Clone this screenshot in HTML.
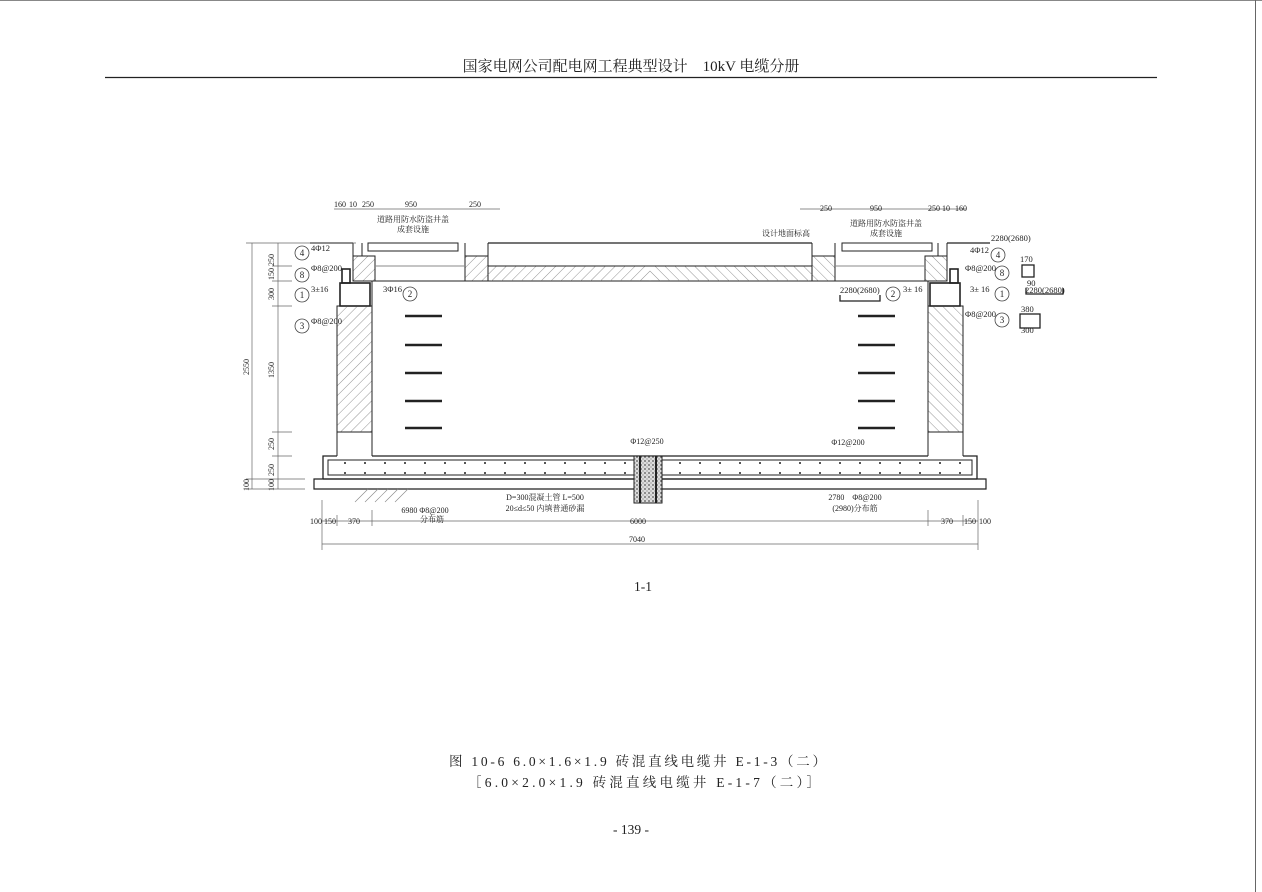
<!DOCTYPE html>
<html><head><meta charset="utf-8"><style>
html,body{margin:0;padding:0;background:#fff;}
svg{display:block;}
text{font-family:"Liberation Serif","Noto Serif CJK SC","Noto Sans CJK SC",serif;fill:#222;}
</style></head><body>
<svg width="1262" height="892" viewBox="0 0 1262 892" xmlns="http://www.w3.org/2000/svg">
<defs>
<pattern id="h" width="7" height="7" patternUnits="userSpaceOnUse" patternTransform="rotate(45)">
<line x1="0" y1="0" x2="0" y2="7" stroke="#666" stroke-width="0.7"/></pattern>
<pattern id="g" width="4" height="4" patternUnits="userSpaceOnUse">
<rect width="4" height="4" fill="#ddd"/><circle cx="1" cy="1" r="0.9" fill="#555"/><circle cx="3" cy="3" r="0.6" fill="#777"/></pattern>
</defs>
<rect width="1262" height="892" fill="#fff"/>
<line x1="0" y1="0.5" x2="1262" y2="0.5" stroke="#888"/>
<line x1="1255.5" y1="0" x2="1255.5" y2="892" stroke="#666"/>
<text x="631" y="71" font-size="15" text-anchor="middle">国家电网公司配电网工程典型设计　10kV 电缆分册</text>
<line x1="105" y1="77.5" x2="1157" y2="77.5" stroke="#222" stroke-width="1.2"/>

<g id="half" stroke="#222" fill="none" stroke-width="1">
  <line x1="310" y1="243" x2="353" y2="243" stroke-width="1.3"/>
  <rect x="368" y="243" width="90" height="8"/>
  <line x1="362" y1="243" x2="362" y2="256"/>
  <line x1="353" y1="243" x2="353" y2="256"/>
  <line x1="465" y1="243" x2="465" y2="256"/>
  <line x1="488" y1="243" x2="488" y2="256"/>
  <line x1="488" y1="243" x2="650" y2="243" stroke-width="1.3"/>
  <rect x="353" y="256" width="22" height="25" fill="url(#h)"/>
  <rect x="465" y="256" width="23" height="25" fill="url(#h)"/>
  <line x1="375" y1="266" x2="465" y2="266" stroke="#888"/>
  <line x1="375" y1="281" x2="650" y2="281"/>
  <rect x="488" y="266" width="162" height="15" fill="url(#h)" stroke="none"/>
  <line x1="488" y1="266" x2="650" y2="266"/>
  <rect x="342" y="269" width="8" height="14" stroke-width="1.6"/>
  <rect x="340" y="283" width="30" height="23" stroke-width="1.6"/>
  <rect x="337" y="306" width="35" height="126" fill="url(#h)"/>
  <line x1="372" y1="281" x2="372" y2="306"/>
  <path d="M337 432 H372 V456 M337 432 V456"/>
  <path d="M323 479 V456 H337 M372 456 H650" stroke-width="1.3"/>
  <line x1="323" y1="479" x2="650" y2="479" stroke-width="1.3"/>
  <path d="M650 460 H328 V475 H650"/>
  <path d="M650 479 H314 V489 H650" stroke-width="1.2"/>
  <g stroke-width="2.5"><line x1="405" y1="316" x2="442" y2="316"/><line x1="405" y1="345" x2="442" y2="345"/><line x1="405" y1="373" x2="442" y2="373"/><line x1="405" y1="401" x2="442" y2="401"/><line x1="405" y1="428" x2="442" y2="428"/></g>
  <line x1="322" y1="521" x2="650" y2="521" stroke="#666" stroke-width="0.7"/>
  <line x1="322" y1="544" x2="650" y2="544" stroke="#666" stroke-width="0.7"/>
  <line x1="322" y1="500" x2="322" y2="550" stroke="#666" stroke-width="0.7"/>
  <line x1="372" y1="510" x2="372" y2="526" stroke="#666" stroke-width="0.7"/>
  <line x1="337" y1="515" x2="337" y2="526" stroke="#666" stroke-width="0.7"/>
  <line x1="334" y1="209" x2="500" y2="209" stroke="#666" stroke-width="0.7"/>
</g>
<use href="#half" transform="matrix(-1,0,0,1,1300,0)"/>
<g fill="#222">
<circle cx="345" cy="463" r="1"/><circle cx="365" cy="463" r="1"/><circle cx="385" cy="463" r="1"/><circle cx="405" cy="463" r="1"/><circle cx="425" cy="463" r="1"/><circle cx="445" cy="463" r="1"/><circle cx="465" cy="463" r="1"/><circle cx="485" cy="463" r="1"/><circle cx="505" cy="463" r="1"/><circle cx="525" cy="463" r="1"/><circle cx="545" cy="463" r="1"/><circle cx="565" cy="463" r="1"/><circle cx="585" cy="463" r="1"/><circle cx="605" cy="463" r="1"/><circle cx="625" cy="463" r="1"/><circle cx="680" cy="463" r="1"/><circle cx="700" cy="463" r="1"/><circle cx="720" cy="463" r="1"/><circle cx="740" cy="463" r="1"/><circle cx="760" cy="463" r="1"/><circle cx="780" cy="463" r="1"/><circle cx="800" cy="463" r="1"/><circle cx="820" cy="463" r="1"/><circle cx="840" cy="463" r="1"/><circle cx="860" cy="463" r="1"/><circle cx="880" cy="463" r="1"/><circle cx="900" cy="463" r="1"/><circle cx="920" cy="463" r="1"/><circle cx="940" cy="463" r="1"/><circle cx="960" cy="463" r="1"/>
<circle cx="345" cy="473" r="1"/><circle cx="365" cy="473" r="1"/><circle cx="385" cy="473" r="1"/><circle cx="405" cy="473" r="1"/><circle cx="425" cy="473" r="1"/><circle cx="445" cy="473" r="1"/><circle cx="465" cy="473" r="1"/><circle cx="485" cy="473" r="1"/><circle cx="505" cy="473" r="1"/><circle cx="525" cy="473" r="1"/><circle cx="545" cy="473" r="1"/><circle cx="565" cy="473" r="1"/><circle cx="585" cy="473" r="1"/><circle cx="605" cy="473" r="1"/><circle cx="625" cy="473" r="1"/><circle cx="680" cy="473" r="1"/><circle cx="700" cy="473" r="1"/><circle cx="720" cy="473" r="1"/><circle cx="740" cy="473" r="1"/><circle cx="760" cy="473" r="1"/><circle cx="780" cy="473" r="1"/><circle cx="800" cy="473" r="1"/><circle cx="820" cy="473" r="1"/><circle cx="840" cy="473" r="1"/><circle cx="860" cy="473" r="1"/><circle cx="880" cy="473" r="1"/><circle cx="900" cy="473" r="1"/><circle cx="920" cy="473" r="1"/><circle cx="940" cy="473" r="1"/><circle cx="960" cy="473" r="1"/>
</g>
<rect x="634" y="456" width="28" height="47" fill="url(#g)" stroke="#222"/>
<line x1="640" y1="456" x2="640" y2="503" stroke="#222" stroke-width="2"/>
<line x1="656" y1="456" x2="656" y2="503" stroke="#222" stroke-width="2"/>
<g stroke="#888" stroke-width="0.6"><line x1="355" y1="502" x2="368" y2="489"/><line x1="365" y1="502" x2="378" y2="489"/><line x1="375" y1="502" x2="388" y2="489"/><line x1="385" y1="502" x2="398" y2="489"/><line x1="395" y1="502" x2="408" y2="489"/></g>
<g stroke="#666" stroke-width="0.7"><line x1="252" y1="243" x2="252" y2="489"/><line x1="278" y1="243" x2="278" y2="489"/><line x1="246" y1="243" x2="356" y2="243"/><line x1="272" y1="266" x2="292" y2="266"/><line x1="272" y1="281" x2="292" y2="281"/><line x1="272" y1="306" x2="292" y2="306"/><line x1="272" y1="432" x2="292" y2="432"/><line x1="246" y1="479" x2="305" y2="479"/><line x1="246" y1="489" x2="305" y2="489"/><line x1="272" y1="456" x2="292" y2="456"/></g>
<g font-size="8" >
<text transform="translate(274,260) rotate(-90)" text-anchor="middle">250</text>
<text transform="translate(274,274) rotate(-90)" text-anchor="middle">150</text>
<text transform="translate(274,294) rotate(-90)" text-anchor="middle">300</text>
<text transform="translate(274,370) rotate(-90)" text-anchor="middle">1350</text>
<text transform="translate(274,444) rotate(-90)" text-anchor="middle">250</text>
<text transform="translate(274,470) rotate(-90)" text-anchor="middle">250</text>
<text transform="translate(274,485) rotate(-90)" text-anchor="middle">100</text>
<text transform="translate(249,367) rotate(-90)" text-anchor="middle">2550</text>
<text transform="translate(249,485) rotate(-90)" text-anchor="middle">100</text>
</g>
<g fill="#fff" stroke="#444" stroke-width="0.8">
<circle cx="302" cy="253" r="7"/><circle cx="302" cy="275" r="7"/><circle cx="302" cy="295" r="7"/><circle cx="302" cy="326" r="7"/><circle cx="410" cy="294" r="7"/>
<circle cx="998" cy="255" r="7"/><circle cx="1002" cy="273" r="7"/><circle cx="1002" cy="294" r="7"/><circle cx="1002" cy="320" r="7"/><circle cx="893" cy="294" r="7"/>
</g>
<g font-size="9" text-anchor="middle">
<text x="302" y="256">4</text><text x="302" y="278">8</text><text x="302" y="298">1</text><text x="302" y="329">3</text><text x="410" y="297">2</text>
<text x="998" y="258">4</text><text x="1002" y="276">8</text><text x="1002" y="297">1</text><text x="1002" y="323">3</text><text x="893" y="297">2</text>
</g>
<g font-size="8.5">
<text x="311" y="251">4Φ12</text><text x="311" y="271">Φ8@200</text><text x="311" y="292">3±16</text><text x="311" y="324">Φ8@200</text><text x="383" y="292">3Φ16</text>
<text x="970" y="253">4Φ12</text><text x="965" y="271">Φ8@200</text><text x="970" y="292">3± 16</text><text x="965" y="317">Φ8@200</text><text x="903" y="292">3± 16</text>
<text x="991" y="241">2280(2680)</text>
<text x="840" y="293">2280(2680)</text>
<text x="1025" y="293">2280(2680)</text>
<text x="1020" y="262">170</text><text x="1027" y="286">90</text><text x="1021" y="312">380</text><text x="1021" y="333">300</text>
</g>
<g fill="none" stroke="#222" stroke-width="1.3"><rect x="1022" y="265" width="12" height="12"/><rect x="1020" y="314" width="20" height="14"/><path d="M1026 288 V294 H1063 V288"/><path d="M840 295 V301 H880 V295"/></g>
<g font-size="8">
<text x="334" y="207">160</text><text x="349" y="207">10</text><text x="362" y="207">250</text><text x="405" y="207">950</text><text x="469" y="207">250</text>
<text x="820" y="211">250</text><text x="870" y="211">950</text><text x="928" y="211">250</text><text x="942" y="211">10</text><text x="955" y="211">160</text>
</g>
<g font-size="8" text-anchor="middle">
<text x="413" y="222">道路用防水防盗井盖</text><text x="413" y="232">成套设施</text>
<text x="886" y="226">道路用防水防盗井盖</text><text x="886" y="236">成套设施</text>
<text x="786" y="236">设计地面标高</text>
<text x="647" y="444">Φ12@250</text><text x="848" y="445">Φ12@200</text>
<text x="545" y="500">D=300混凝土管 L=500</text><text x="545" y="511">20≤d≤50 内填普通砂漏</text>
<text x="425" y="513">6980 Φ8@200</text><text x="432" y="522">分布筋</text>
<text x="855" y="500">2780　Φ8@200</text><text x="855" y="511">(2980)分布筋</text>
<text x="316" y="524">100</text><text x="330" y="524">150</text><text x="354" y="524">370</text><text x="638" y="524">6000</text><text x="947" y="524">370</text><text x="970" y="524">150</text><text x="985" y="524">100</text>
<text x="637" y="542">7040</text>
</g>
<g font-size="13.5">
<text x="643" y="591" text-anchor="middle">1-1</text>
<text x="449" y="766" textLength="377" lengthAdjust="spacing">图 10-6 6.0×1.6×1.9 砖混直线电缆井 E-1-3（二）</text>
<text x="468" y="787" textLength="352" lengthAdjust="spacing">［6.0×2.0×1.9 砖混直线电缆井 E-1-7（二）］</text>
<text x="631" y="834" text-anchor="middle">- 139 -</text>
</g>
</svg>
</body></html>
